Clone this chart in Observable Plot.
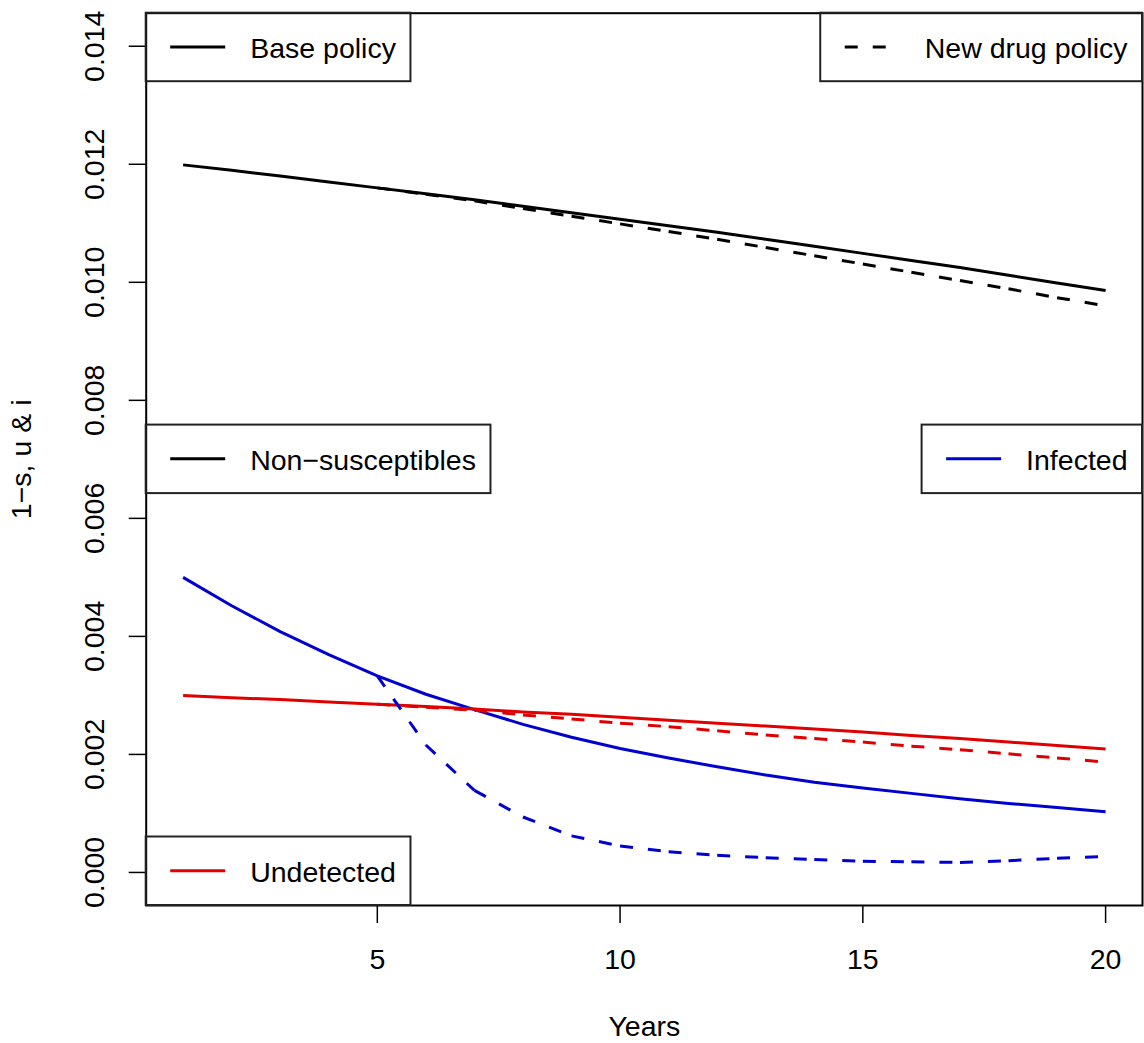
<!DOCTYPE html>
<html>
<head>
<meta charset="utf-8">
<script src="https://cdn.jsdelivr.net/npm/d3@7"></script>
<script src="https://cdn.jsdelivr.net/npm/@observablehq/plot@0.6"></script>
<style>
  body { margin: 0; background: #fff; }
  svg { display: block; }
</style>
</head>
<body>
<div id="chart"></div>
<script>
// ---- data ----
const years = [1,2,3,4,5,6,7,8,9,10,11,12,13,14,15,16,17,18,19,20];
const newYears = [5,6,7,8,9,10,11,12,13,14,15,16,17,18,19,20];

const baseNonSusceptibles = [0.01199,0.01190,0.01180,0.01170,0.01160,0.01150,0.01140,0.01129,0.01118,0.01107,
                             0.01096,0.01085,0.01073,0.01061,0.01049,0.01037,0.01025,0.01012,0.00999,0.00986];
const newNonSusceptibles  = [0.01160,0.01149,0.01138,0.01125,0.01112,0.01099,0.01086,0.01073,
                             0.01059,0.01045,0.01031,0.01017,0.01003,0.00989,0.00974,0.00960];

const baseInfected = [0.00500,0.00452,0.00408,0.00369,0.00333,0.00302,0.00276,0.00251,0.00229,0.00210,
                      0.00194,0.00179,0.00165,0.00153,0.00143,0.00134,0.00125,0.00117,0.00110,0.00103];
const newInfected  = [0.00333,0.00216,0.00139,0.00094,0.00062,0.00045,0.00035,0.00029,
                      0.00025,0.00022,0.00019,0.00018,0.00017,0.00020,0.00024,0.00027];

const baseUndetected = [0.00300,0.00296,0.00293,0.00289,0.00285,0.00281,0.00277,0.00272,0.00268,0.00263,
                        0.00258,0.00253,0.00248,0.00243,0.00238,0.00232,0.00227,0.00221,0.00215,0.00209];
const newUndetected  = [0.00285,0.00280,0.00275,0.00267,0.00260,0.00253,0.00247,0.00240,
                        0.00233,0.00227,0.00221,0.00214,0.00208,0.00201,0.00194,0.00187];

const xTicks = [5,10,15,20];
const yTicks = [0,0.002,0.004,0.006,0.008,0.010,0.012,0.014];

const xTitle = "Years";
const yTitle = "1\u2212s, u & i";

const legendLabels = ["Base policy","New drug policy","Non\u2212susceptibles","Infected","Undetected"];
const legendKinds  = ["black","black","black","blue","red"];
const legendDashed = [false,true,false,false,false];

// ---- styles ----
const COLORS = {black: "#000000", blue: "#0000d0", red: "#e00000"};
const FONT = "'Liberation Sans', Arial, Helvetica, sans-serif";
const FS = 28.5;
const LW = 3;
const DASH = "13,15";

const ML = 145.7, MR = 2, MT = 12.7, MB = 138, W = 1144, H = 1043;

function seriesRows(xs, ys) { return xs.map((x, i) => ({x, y: ys[i]})); }
function segRows(xs, ys) {
  const out = [];
  for (let i = 0; i < xs.length - 1; i++) out.push({x1: xs[i], y1: ys[i], x2: xs[i+1], y2: ys[i+1]});
  return out;
}

const solid = [
  {rows: seriesRows(years, baseNonSusceptibles), c: COLORS.black},
  {rows: seriesRows(years, baseInfected), c: COLORS.blue},
  {rows: seriesRows(years, baseUndetected), c: COLORS.red}
];
const dashed = [
  {rows: segRows(newYears, newNonSusceptibles), c: COLORS.black},
  {rows: segRows(newYears, newInfected), c: COLORS.blue},
  {rows: segRows(newYears, newUndetected), c: COLORS.red}
];

const fmt = d3.format(".3f");

const marks = [];
solid.forEach(s => marks.push(Plot.line(s.rows, {x: "x", y: "y", stroke: s.c, strokeWidth: LW, strokeLinejoin: "round", strokeLinecap: "butt"})));
dashed.forEach(s => marks.push(Plot.link(s.rows, {x1: "x1", y1: "y1", x2: "x2", y2: "y2", stroke: s.c, strokeWidth: LW, strokeDasharray: DASH, strokeLinecap: "butt"})));

marks.push(
  Plot.axisX({ticks: xTicks, tickSize: 18, tickPadding: 25, fontSize: FS, tickFormat: d => String(d), strokeWidth: 1.5, label: null}),
  Plot.axisY({ticks: yTicks, tickSize: 17, tickFormat: () => "", strokeWidth: 1.5, label: null}),
  Plot.text(yTicks, {y: d => d, text: d => fmt(d), frameAnchor: "left", dx: -51, rotate: -90, fontSize: FS, textAnchor: "middle", lineAnchor: "middle", fill: "black"}),
  Plot.text([xTitle], {frameAnchor: "bottom", dy: 121, fontSize: FS, text: d => d, lineAnchor: "middle", fill: "black"}),
  Plot.text([yTitle], {frameAnchor: "left", dx: -124, rotate: -90, fontSize: FS, text: d => d, lineAnchor: "middle", textAnchor: "middle", fill: "black"}),
  Plot.frame({stroke: "black", strokeWidth: 2})
);

const plot = Plot.plot({
  width: W, height: H,
  marginLeft: ML, marginRight: MR, marginTop: MT, marginBottom: MB,
  style: {fontFamily: FONT, background: "#fff", color: "black", overflow: "visible"},
  x: {domain: [0.24, 20.76], label: null},
  y: {domain: [-0.00056, 0.01456], label: null},
  marks
});
document.getElementById("chart").appendChild(plot);

// ---- legends (R-style boxed legends) ----
const svg = d3.select(plot);
const fL = ML, fR = W - MR, fT = MT, fB = H - MB;
const boxH = 68.5;
const anchors = ["topleft","topright","left","right","bottomleft"];
const g = svg.append("g").attr("font-family", FONT).attr("font-size", FS).attr("text-anchor", "start");
legendLabels.forEach((label, i) => {
  const t = g.append("text").text(label).attr("fill", "black").attr("text-anchor", "start");
  const tw = t.node().getComputedTextLength();
  const bw = 104 + tw + 15;
  const a = anchors[i];
  const bx = a.includes("right") ? fR - bw : fL;
  let by;
  if (a.startsWith("top")) by = fT;
  else if (a.startsWith("bottom")) by = fB - boxH;
  else by = (fT + fB) / 2 - boxH / 2;
  const cy = by + boxH / 2;
  g.insert("rect", "text")
    .attr("x", bx).attr("y", by).attr("width", bw).attr("height", boxH)
    .attr("fill", "none").attr("stroke", "#222").attr("stroke-width", 2);
  g.append("line")
    .attr("x1", bx + 24.5).attr("x2", bx + 79.5).attr("y1", cy).attr("y2", cy)
    .attr("stroke", COLORS[legendKinds[i]]).attr("stroke-width", LW)
    .attr("stroke-dasharray", legendDashed[i] ? DASH : null);
  t.attr("x", bx + 104.5).attr("y", cy + 10.8);
});
</script>
</body>
</html>
